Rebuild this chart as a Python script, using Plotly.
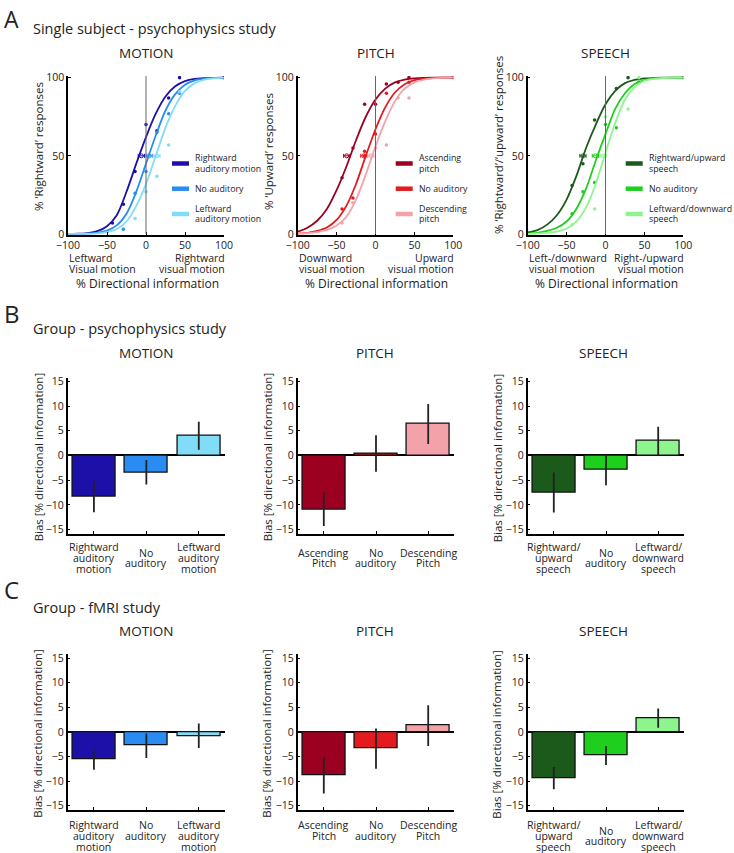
import plotly.graph_objects as go

W, H = 734, 853
FONT = "Open Sans"
INK = "#222222"

# ---------------- data ----------------
# panel A: fitted psychometric curves, sampled along % directional information
curve_x = [-100, -87.5, -75, -62.5, -50, -37.5, -25, -12.5, 0, 12.5, 25, 37.5, 50, 62.5, 75, 87.5, 100]

motion_curve_right = [0, 0.2, 0.6, 1.8, 5, 12, 27, 45, 62, 77, 88, 94.5, 97.8, 99.2, 99.7, 99.9, 100]
motion_curve_none = [0, 0.1, 0.3, 0.8, 2.2, 5.5, 13, 27, 45, 63, 79, 89.5, 95.5, 98.3, 99.4, 99.8, 100]
motion_curve_left = [0, 0, 0.1, 0.4, 1.2, 3.2, 8, 18, 32, 50, 68, 82, 91.5, 96.5, 98.8, 99.6, 100]

pitch_curve_asc = [1.5, 4, 8.5, 16, 28, 43, 60, 75, 86, 93, 97, 98.8, 99.6, 99.9, 100, 100, 100]
pitch_curve_none = [0.3, 0.8, 2, 4.2, 9, 18, 32, 50, 67, 81, 90.5, 95.8, 98.4, 99.4, 99.8, 100, 100]
pitch_curve_desc = [0.2, 0.5, 1.2, 2.6, 5.5, 11, 22, 38, 56, 72, 85, 93, 97, 98.8, 99.6, 99.9, 100]

speech_curve_right = [1, 2.5, 6, 12, 22, 37, 55, 70, 83, 91.5, 96.5, 98.6, 99.5, 99.8, 100, 100, 100]
speech_curve_none = [0.3, 0.8, 2, 4, 8, 16, 29, 47, 64, 80, 90, 96, 98.5, 99.5, 99.8, 100, 100]
speech_curve_left = [0.1, 0.3, 0.7, 1.5, 3.5, 8, 17, 32, 52, 71, 86, 94, 98, 99.3, 99.8, 100, 100]

# panel A: raw response proportions (dots)
motion_dots_x = [[-43, -29, -14, 0, 14, 29, 43, 100], [-29, -14, 0, 14, 29, 43], [-14, 0, 14, 29, 43]]
motion_dots_y = [[7, 19, 40, 70, 66, 87, 100, 100], [3, 26, 40, 65, 77, 90], [10, 27, 37, 57, 91]]
pitch_dots_x = [[-43, -29, -14, 0, 14, 29, 43, 100], [-43, -29, -14, -14, 0, 14, 43], [-43, -29, 0, 14, 29, 43]]
pitch_dots_y = [[36, 55, 83, 83, 96, 97, 100, 100], [16, 23, 53, 50, 64, 90, 97], [7, 20, 55, 57, 87, 87]]
speech_dots_x = [[-43, -29, -14, 14, 29, 43, 100], [-43, -29, -14, 0, 14, 43], [-43, -14, 0, 29, 43]]
speech_dots_y = [[31, 45, 73, 93, 100, 97, 100], [13, 27, 33, 70, 68, 97], [6, 16, 75, 80, 100]]

# panel A: point of subjective equality (bias) with its error, plotted at 50 %
motion_pse = [-6, 4, 14]
pitch_pse = [-37, -15, -6]
speech_pse = [-29, -13, -3]
pse_err = [4, 4, 4]

# panel B: group psychophysics bias (mean, error)
motion_bias_psy = [-8.4, -3.4, 4.0]
motion_err_psy = [3.1, 2.5, 2.85]
pitch_bias_psy = [-10.9, 0.4, 6.35]
pitch_err_psy = [3.4, 3.7, 4.05]
speech_bias_psy = [-7.5, -2.9, 2.9]
speech_err_psy = [4.05, 3.15, 2.9]

# panel C: group fMRI bias (mean, error)
motion_bias_fmri = [-5.6, -2.8, -0.8]
motion_err_fmri = [2.1, 2.5, 2.5]
pitch_bias_fmri = [-8.8, -3.4, 1.3]
pitch_err_fmri = [3.75, 4.1, 4.15]
speech_bias_fmri = [-9.4, -4.8, 2.8]
speech_err_fmri = [2.25, 1.95, 1.95]

motion_labels = ["Rightward<br>auditory<br>motion", "No<br>auditory", "Leftward<br>auditory<br>motion"]
pitch_labels = ["Ascending<br>Pitch", "No<br>auditory", "Descending<br>Pitch"]
speech_labels = ["Rightward/<br>upward<br>speech", "No<br>auditory", "Leftward/<br>downward<br>speech"]

motion_legend = ["Rightward<br>auditory motion", "No auditory", "Leftward<br>auditory motion"]
pitch_legend = ["Ascending<br>pitch", "No auditory", "Descending<br>pitch"]
speech_legend = ["Rightward/upward<br>speech", "No auditory", "Leftward/downward<br>speech"]

motion_colors = ["#1d10a8", "#2a8cf2", "#80dcf7"]
pitch_colors = ["#9c0020", "#e41b1e", "#f2a2a8"]
speech_colors = ["#1c5a1c", "#1ecf1e", "#8ef58e"]

# ---------------- helpers ----------------
fig = go.Figure()
annotations = []
shapes = []


def px(x):
    return x / W


def py(y):
    return 1 - y / H


def text(x, y, s, size, xanchor="left", yanchor="middle", angle=0, xref="paper"):
    annotations.append(dict(
        x=x if xref != "paper" else px(x), y=py(y), xref=xref, yref="paper",
        text=s, showarrow=False, textangle=angle, xanchor=xanchor, yanchor=yanchor,
        font=dict(size=size, family=FONT, color=INK)))


def multiline(x, y_first, s, size, spacing, xanchor="left", xref="paper"):
    for i, line in enumerate(s.split("<br>")):
        text(x, y_first + i * spacing, line, size, xanchor=xanchor, xref=xref)


def set_axes(i, xdom, ydom, xr, yr, xticks, yticks, show_xlabels=True):
    suffix = "" if i == 1 else str(i)
    common = dict(showline=True, linecolor="black", linewidth=1.5, ticks="inside",
                  ticklen=3, tickcolor="black", showgrid=False, zeroline=False,
                  automargin=False, tickfont=dict(size=10.5, family=FONT, color=INK))
    fig.layout["xaxis" + suffix] = dict(common, domain=[px(xdom[0]), px(xdom[1])], range=xr,
                                        tickvals=xticks, showticklabels=show_xlabels,
                                        anchor="y" + suffix)
    fig.layout["yaxis" + suffix] = dict(common, domain=[py(ydom[1]), py(ydom[0])], range=yr,
                                        tickvals=yticks, anchor="x" + suffix)


# ---------------- panel A ----------------
A_x = [[68, 224], [297.7, 453.3], [527.7, 683.3]]
A_y = [76.1, 234.8]
A_curves = [
    ([motion_curve_right, motion_curve_none, motion_curve_left], motion_dots_x, motion_dots_y, motion_pse, motion_colors),
    ([pitch_curve_asc, pitch_curve_none, pitch_curve_desc], pitch_dots_x, pitch_dots_y, pitch_pse, pitch_colors),
    ([speech_curve_right, speech_curve_none, speech_curve_left], speech_dots_x, speech_dots_y, speech_pse, speech_colors),
]
A_titles = ["MOTION", "PITCH", "SPEECH"]
A_ytitles = ["% \u2018Rightward\u2019 responses", "% \u2018Upward\u2019 responses",
             "% \u2018Rightward\u2019/\u2018upward\u2019 responses"]
A_ytitle_x = [38, 268, 498]
A_ytitle_y = [147, 152, 145]
A_under = [("Leftward<br>Visual motion", "Rightward<br>visual motion"),
           ("Downward<br>visual motion", "Upward<br>visual motion"),
           ("Left-/downward<br>visual motion", "Right-/upward<br>visual motion")]
A_legends = [motion_legend, pitch_legend, speech_legend]

for k in range(3):
    i = k + 1
    xa, ya = ("x" if i == 1 else "x%d" % i), ("y" if i == 1 else "y%d" % i)
    set_axes(i, A_x[k], A_y, [-100, 100], [-0.5, 101], [-100, -50, 0, 50, 100], [0, 50, 100])
    curves, dx, dy, pse, cols = A_curves[k]
    shapes.append(dict(type="line", xref=xa, yref=ya, x0=0, x1=0, y0=0, y1=101,
                       line=dict(color="#666666", width=1)))
    for c in range(3):
        fig.add_trace(go.Scatter(x=curve_x, y=curves[c], mode="lines", xaxis=xa, yaxis=ya,
                                 line=dict(color=cols[c], width=1.8, shape="spline", smoothing=0.8),
                                 showlegend=False))
        fig.add_trace(go.Scatter(x=dx[c], y=dy[c], mode="markers", xaxis=xa, yaxis=ya,
                                 marker=dict(color=cols[c], size=3.5), showlegend=False))
        fig.add_trace(go.Scatter(x=[pse[c]], y=[50], mode="markers", xaxis=xa, yaxis=ya,
                                 marker=dict(color=cols[c], size=4, symbol="circle-open", line=dict(width=1)),
                                 error_x=dict(type="data", array=[pse_err[c]], color=cols[c],
                                              thickness=1, width=2),
                                 showlegend=False))
    x0, x1 = A_x[k]
    xc = (x0 + x1) / 2
    text(xc, 53, A_titles[k], 13.5, xanchor="center")
    text(A_ytitle_x[k], A_ytitle_y[k], A_ytitles[k], 11.5, xanchor="center", angle=-90)
    multiline(x0 - 1, 258, A_under[k][0], 10.5, 10.5)
    multiline(x1 + 3, 258, A_under[k][1], 10.5, 10.5, xanchor="right")
    text(xc + 1, 283, "% Directional information", 12, xanchor="center")
    # legend swatches
    lx0 = x1 - 52 if k == 0 else x1 - 57.6
    for c, lab in enumerate(A_legends[k]):
        ly = [163.5, 188.7, 214][c]
        shapes.append(dict(type="line", xref="paper", yref="paper", x0=px(lx0), x1=px(lx0 + 17),
                           y0=py(ly), y1=py(ly), line=dict(color=A_curves[k][4][c], width=4.5)))
        parts = lab.split("<br>")
        start = ly - 5 * (len(parts) - 1)
        for j, part in enumerate(parts):
            text(lx0 + 21, start + 10 * j, part, 8.8)

text(2, 0.5, "A", 23, yanchor="top")
text(31, 28, "Single subject - psychophysics study", 14.5)

# ---------------- panels B and C ----------------
bar_x = [0, 1, 2]
BC_x = [[67.7, 225], [297.7, 454.3], [527.7, 684.3]]
bar_panels = [
    # (y domain px, y range, [(values, errors, colours, labels, top aligned)], title y, label y)
    ([377.7, 534], [-15.9, 15.75],
     [(motion_bias_psy, motion_err_psy, motion_colors, motion_labels, False),
      (pitch_bias_psy, pitch_err_psy, pitch_colors, pitch_labels, False),
      (speech_bias_psy, speech_err_psy, speech_colors, speech_labels, False)], 353, 547),
    ([654.3, 810], [-15.9, 15.8],
     [(motion_bias_fmri, motion_err_fmri, motion_colors, motion_labels, True),
      (pitch_bias_fmri, pitch_err_fmri, pitch_colors, pitch_labels, True),
      (speech_bias_fmri, speech_err_fmri, speech_colors, speech_labels, False)], 631, 825),
]
ytitle_x = [38, 267, 497]
titles_x = [146.7, 375, 603]

i = 4
for ydom, yr, panels, title_y, label_y in bar_panels:
    for k, (vals, errs, cols, labels, top) in enumerate(panels):
        xa, ya = "x%d" % i, "y%d" % i
        set_axes(i, BC_x[k], ydom, [-0.5, 2.5], yr, bar_x, [-15, -10, -5, 0, 5, 10, 15],
                 show_xlabels=False)
        fig.layout["yaxis%d" % i].update(zeroline=True, zerolinecolor="black", zerolinewidth=1.5)
        fig.add_trace(go.Bar(x=bar_x, y=vals, xaxis=xa, yaxis=ya, width=0.82,
                             marker=dict(color=cols, line=dict(color="#111111", width=1.3)),
                             error_y=dict(type="data", array=errs, color="#222222", thickness=1.8, width=0),
                             showlegend=False))
        for c, lab in enumerate(labels):
            n = len(lab.split("<br>"))
            y0 = label_y if (top or n == 3) else label_y + 5.5
            multiline(bar_x[c], y0, lab, 10.5, 10.8, xanchor="center", xref=xa)
        text(titles_x[k], title_y, ["MOTION", "PITCH", "SPEECH"][k], 13.5, xanchor="center")
        text(ytitle_x[k], (ydom[0] + ydom[1]) / 2 + 1.5, "Bias [% directional information]", 11.5,
             xanchor="center", angle=-90)
        i += 1

text(2, 314, "B", 24)
text(31, 328, "Group - psychophysics study", 14.5)
text(2, 589, "C", 24)
text(31, 607, "Group - fMRI study", 14.5)

fig.update_layout(
    width=W, height=H,
    margin=dict(l=0, r=0, t=0, b=0, autoexpand=False),
    paper_bgcolor="white", plot_bgcolor="white",
    font=dict(family=FONT, color=INK),
    annotations=annotations, shapes=shapes,
    bargap=0,
)

# the page's default body margin would push the 734x853 figure out of the window
fig.write_html("out.html", config={"displayModeBar": False},
               post_script="document.body.style.margin = '0';")
